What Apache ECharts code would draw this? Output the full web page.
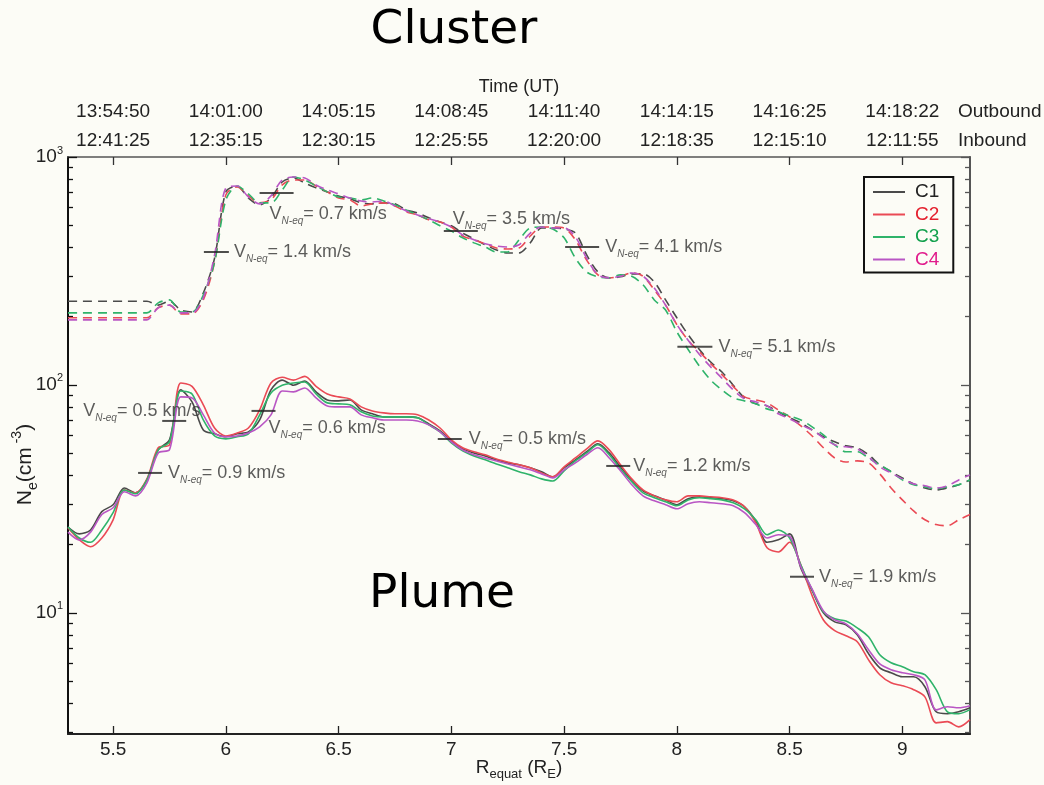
<!DOCTYPE html>
<html>
<head>
<meta charset="utf-8">
<title>Cluster plume</title>
<script src="https://cdn.jsdelivr.net/npm/echarts@6/dist/echarts.min.js"></script>
<style>
    html, body { margin: 0; padding: 0; background: #fcfcf6; }
    #chart { width: 1044px; height: 785px; }
</style>
</head>
<body>
<div id="chart"></div>
<script>
// R_equat grid (R_E), shared by all curves
const rGrid = [
    5.30, 5.35, 5.40, 5.45,
    5.50, 5.55, 5.60, 5.65, 5.70, 5.75, 5.80, 5.85, 5.90, 5.95,
    6.00, 6.05, 6.10, 6.15, 6.20, 6.25, 6.30, 6.35, 6.40, 6.45,
    6.50, 6.55, 6.60, 6.65, 6.70, 6.75, 6.80, 6.85, 6.90, 6.95,
    7.00, 7.05, 7.10, 7.15, 7.20, 7.25, 7.30, 7.35, 7.40, 7.45,
    7.50, 7.55, 7.60, 7.65, 7.70, 7.75, 7.80, 7.85, 7.90, 7.95,
    8.00, 8.05, 8.10, 8.15, 8.20, 8.25, 8.30, 8.35, 8.40, 8.45,
    8.50, 8.55, 8.60, 8.65, 8.70, 8.75, 8.80, 8.85, 8.90, 8.95,
    9.00, 9.05, 9.10, 9.15, 9.20, 9.25, 9.30
];

// Ne (cm^-3), dashed curves (upper, "Cluster")
const clusterC1 = [
    233, 233, 233, 233,
    233, 233, 233, 233, 224, 233, 213, 209, 253, 360,
    703, 746, 661, 617, 661, 777, 809, 769, 732, 703,
    675, 655, 629, 623, 629, 623, 586, 568, 541, 519,
    499, 464, 437, 412, 391, 379, 379, 420, 488, 488,
    483, 464, 372, 313, 295, 298, 307, 307, 283, 236,
    197, 166, 143, 126, 114, 99.7, 87.7, 82.6, 80.9, 76.2,
    71.7, 68.1, 63.4, 59.2, 56.3, 54.1, 53.0, 49.4, 44.6, 41.6,
    39.1, 36.8, 35.3, 34.6, 35.3, 36.5, 38.3
];
const clusterC2 = [
    197, 197, 197, 197,
    197, 197, 197, 197, 218, 224, 205, 205, 236, 346,
    682, 739, 675, 629, 648, 754, 793, 793, 746, 703,
    661, 648, 610, 623, 629, 610, 574, 557, 530, 519,
    493, 450, 433, 416, 399, 395, 399, 450, 493, 493,
    488, 433, 353, 304, 295, 300, 310, 300, 261, 224,
    184, 157, 140, 124, 111, 98.6, 88.6, 85.9, 83.4, 77.7,
    72.4, 66.1, 59.7, 53.0, 47.8, 45.9, 46.4, 45.5, 40.7, 35.3,
    31.3, 28.0, 25.6, 24.4, 24.1, 25.6, 27.0
];
const clusterC3 = [
    207, 207, 207, 207,
    207, 207, 207, 207, 229, 236, 209, 209, 248, 346,
    648, 746, 689, 629, 629, 717, 817, 793, 746, 703,
    668, 661, 648, 661, 641, 617, 586, 557, 530, 499,
    473, 442, 420, 403, 383, 383, 433, 488, 493, 483,
    442, 360, 313, 298, 295, 304, 300, 275, 236, 213,
    171, 143, 121, 105, 95.1, 87.7, 85.1, 82.6, 78.5, 76.2,
    73.1, 70.2, 65.4, 60.4, 54.6, 50.9, 50.9, 47.8, 44.6, 41.6,
    38.3, 36.5, 35.7, 35.0, 35.7, 36.5, 38.3
];
const clusterC4 = [
    193, 193, 193, 193,
    193, 193, 193, 193, 218, 224, 207, 207, 241, 372,
    732, 746, 668, 623, 675, 793, 817, 809, 754, 717,
    689, 661, 641, 635, 641, 610, 580, 557, 536, 519,
    493, 455, 433, 416, 407, 403, 412, 464, 493, 488,
    488, 446, 360, 304, 295, 300, 310, 300, 266, 224,
    184, 157, 136, 120, 107, 95.1, 86.8, 84.3, 80.9, 74.7,
    71.0, 66.8, 63.4, 58.6, 54.6, 53.5, 52.4, 48.3, 43.7, 41.1,
    38.7, 36.8, 36.1, 35.3, 36.1, 38.3, 40.3
];

// Ne (cm^-3), solid curves (lower, "Plume")
const plumeC1 = [
    23.8, 22.2, 23.1, 27.8,
    29.8, 35.3, 33.6, 38.3, 51.9, 57.4, 95.1, 84.3, 63.4, 61.0,
    59.2, 61.0, 62.2, 70.2, 95.1, 105, 99.7, 104, 93.2, 85.9,
    85.1, 85.9, 77.7, 74.7, 72.4, 72.4, 72.4, 71.7, 67.5, 62.8,
    56.8, 52.4, 50.3, 48.8, 46.9, 45.5, 44.6, 43.3, 41.6, 39.5,
    43.3, 46.9, 50.9, 55.2, 50.3, 43.7, 38.3, 34.3, 32.6, 31.3,
    29.8, 31.7, 32.3, 32.0, 31.7, 31.0, 29.2, 25.3, 20.4, 20.9,
    22.2, 15.7, 12.5, 10.0, 9.13, 8.86, 8.01, 6.62, 5.74, 5.46,
    5.24, 5.24, 4.74, 3.68, 3.61, 3.68, 3.83
];
const plumeC2 = [
    23.6, 20.9, 19.5, 21.3,
    25.6, 34.6, 33.6, 38.7, 53.0, 54.6, 102, 98.6, 81.8, 64.7,
    59.7, 61.5, 64.7, 77.7, 102, 108, 105, 109, 98.6, 91.3,
    88.6, 86.8, 80.1, 76.9, 75.4, 74.7, 74.7, 73.9, 70.2, 64.7,
    57.4, 53.0, 50.9, 49.4, 47.3, 45.9, 44.6, 43.3, 41.1, 39.5,
    43.7, 47.8, 52.4, 56.8, 51.9, 44.6, 38.7, 34.6, 32.6, 31.3,
    30.7, 32.6, 32.6, 32.3, 32.0, 31.3, 29.2, 24.8, 19.3, 18.5,
    20.4, 16.2, 11.9, 9.3, 8.35, 7.93, 7.47, 6.22, 5.35, 4.93,
    4.79, 4.60, 4.28, 3.29, 3.33, 3.16, 3.40
];
const plumeC3 = [
    23.8, 21.3, 20.4, 23.1,
    27.5, 34.6, 33.3, 38.3, 51.9, 56.3, 94.1, 91.3, 70.2, 59.7,
    58.0, 59.2, 61.0, 73.9, 92.2, 99.7, 102, 103, 91.3, 83.4,
    82.6, 81.8, 76.2, 73.1, 72.4, 72.4, 72.4, 71.7, 66.8, 62.2,
    55.7, 51.4, 48.8, 46.9, 45.0, 43.3, 41.6, 40.3, 38.7, 37.9,
    42.0, 46.4, 50.3, 54.6, 49.4, 42.8, 37.6, 33.6, 32.0, 30.7,
    29.5, 31.3, 32.0, 31.7, 31.3, 30.4, 28.6, 25.6, 22.0, 23.1,
    21.3, 16.2, 12.6, 10.1, 9.41, 9.2, 8.59, 7.85, 6.55, 6.04,
    5.80, 5.52, 5.35, 4.60, 3.68, 3.61, 3.76
];
const plumeC4 = [
    22.6, 20.9, 22.6, 27.0,
    28.9, 34.0, 32.6, 37.2, 50.3, 52.0, 88.6, 87.7, 73.9, 61.5,
    59.2, 59.7, 61.5, 65.4, 73.9, 94.1, 93.2, 97.0, 87.7, 80.9,
    80.1, 80.1, 73.9, 71.7, 70.2, 70.2, 70.2, 69.5, 66.8, 62.2,
    56.3, 51.9, 49.4, 47.8, 46.4, 45.0, 43.7, 42.4, 40.7, 39.1,
    42.4, 45.5, 49.4, 53.0, 47.8, 42.0, 36.5, 32.6, 31.0, 29.8,
    28.6, 30.1, 30.7, 30.4, 30.1, 29.5, 27.5, 24.4, 21.3, 22.0,
    21.7, 15.9, 12.7, 10.2, 9.31, 8.95, 8.09, 6.89, 5.97, 5.63,
    5.46, 5.35, 5.08, 3.75, 3.87, 3.83, 3.91
];

// V_N-eq markers
const annoR = [6.225, 5.958, 7.042, 7.58, 8.08, 5.771, 5.664, 6.167, 6.993, 7.74, 8.555];
const annoN = [695, 383, 473, 403, 147, 69.5, 41.1, 76.9, 57.9, 44.1, 14.4];
const annoSpeed = ['0.7', '1.4', '3.5', '4.1', '5.1', '0.5', '0.9', '0.6', '0.5', '1.2', '1.9'];

// axes
const xTicks = [5.5, 6, 6.5, 7, 7.5, 8, 8.5, 9];
const outboundTimes = ['13:54:50', '14:01:00', '14:05:15', '14:08:45', '14:11:40', '14:14:15', '14:16:25', '14:18:22'];
const inboundTimes = ['12:41:25', '12:35:15', '12:30:15', '12:25:55', '12:20:00', '12:18:35', '12:15:10', '12:11:55'];
const yMajor = [10, 100, 1000];
const yMinor = [3, 4, 5, 6, 7, 8, 9, 20, 30, 40, 50, 60, 70, 80, 90, 200, 300, 400, 500, 600, 700, 800, 900];
const names = ['C1', 'C2', 'C3', 'C4'];

// styles (not data)
const lineColors = ['#4a4a4a', '#ea4a55', '#2fb36a', '#b956c4'];
const textColors = ['#222222', '#e4202e', '#11a04c', '#e01c8c'];
const markWidth = [34, 25, 34, 34, 35, 24, 24, 24, 24, 24, 24];
const labelShift = [[-29, 21], [0, 0], [-30, -12], [1, 0], [1, 0], [-108, -10], [1, 0], [-12, 17], [2, 0], [-2, 0], [0, 0]];

const FONT = '"Liberation Sans", Arial, sans-serif';
const yMin = 2.94, yMax = 1000;
const xMin = 5.3, xMax = 9.3;

let chartDom = document.getElementById('chart');
let myChart = echarts.init(chartDom);

function curve(name, values, color, dashed) {
    return {
        name: name,
        type: 'line',
        data: rGrid.map((r, i) => [r, values[i]]),
        showSymbol: false,
        symbol: 'none',
        smooth: 0.3,
        itemStyle: {color: color},
        lineStyle: {color: color, width: 1.6, type: dashed ? [9, 6] : 'solid'},
        emphasis: {disabled: true},
        z: 2
    };
}

function logAxis(position, ticks, len, lineShow, lineColor) {
    return {
        type: 'log',
        logBase: 10,
        min: yMin,
        max: yMax,
        position: position,
        axisLine: {show: lineShow, lineStyle: {color: lineColor, width: 2}},
        axisTick: {show: true, inside: true, length: len, customValues: ticks, lineStyle: {color: lineColor, width: 1.3}},
        axisLabel: {show: false},
        splitLine: {show: false}
    };
}

const plumeData = [plumeC1, plumeC2, plumeC3, plumeC4];
const clusterData = [clusterC1, clusterC2, clusterC3, clusterC4];

let series = [];
names.forEach((n, i) => series.push(curve(n, plumeData[i], lineColors[i], false)));
names.forEach((n, i) => series.push(curve(n, clusterData[i], lineColors[i], true)));
series.push({
    name: 'marks',
    type: 'scatter',
    symbol: 'rect',
    z: 5,
    itemStyle: {color: '#222'},
    emphasis: {disabled: true},
    data: annoR.map((r, i) => ({
        value: [r, annoN[i]],
        symbolSize: [markWidth[i], 2],
        label: {offset: labelShift[i]}
    })),
    label: {
        show: true,
        position: 'right',
        distance: 5,
        formatter: p => '{v|V}{sub|N-eq}{v|= ' + annoSpeed[p.dataIndex] + ' km/s}',
        rich: {
            v: {fontSize: 18, fontFamily: FONT, color: '#333', lineHeight: 24},
            sub: {fontSize: 10, fontFamily: FONT, fontStyle: 'italic', color: '#333', lineHeight: 10, verticalAlign: 'bottom'}
        }
    }
});

let option = {
    backgroundColor: '#fcfcf6',
    animation: false,
    grid: {left: 68, right: 74, top: 157, bottom: 51, containLabel: false, outerBoundsMode: 'none'},
    legend: {
        orient: 'vertical',
        left: 864,
        top: 177,
        padding: [5, 14, 3, 9],
        borderColor: '#111',
        borderWidth: 2,
        itemWidth: 32,
        itemHeight: 2,
        itemGap: 2.5,
        icon: 'rect',
        selectedMode: false,
        textStyle: {fontSize: 19, fontFamily: FONT, lineHeight: 20, padding: [0, 0, 0, 5]},
        data: names.map((n, i) => ({name: n, textStyle: {color: textColors[i]}}))
    },
    xAxis: [
        {
            type: 'value',
            min: xMin,
            max: xMax,
            position: 'bottom',
            axisLine: {onZero: false, lineStyle: {color: '#222', width: 2}},
            axisTick: {inside: true, length: 8, customValues: xTicks, lineStyle: {color: '#222', width: 1.3}},
            axisLabel: {customValues: xTicks, formatter: v => String(v), margin: 6, fontSize: 19, fontFamily: FONT, color: '#222'},
            splitLine: {show: false},
            name: '{b|R}{sub|equat}{b| (R}{sub|E}{b|)}',
            nameLocation: 'middle',
            nameGap: 21,
            nameMoveOverlap: false,
            nameTextStyle: {
                rich: {
                    b: {fontSize: 19, fontFamily: FONT, color: '#222', lineHeight: 26},
                    sub: {fontSize: 13, fontFamily: FONT, color: '#222', lineHeight: 13, verticalAlign: 'bottom'}
                }
            }
        },
        {
            type: 'value',
            min: xMin,
            max: xMax,
            position: 'top',
            axisLine: {onZero: false, lineStyle: {color: '#555', width: 1.5}},
            axisTick: {inside: true, length: 8, customValues: xTicks, lineStyle: {color: '#333', width: 1.3}},
            axisLabel: {
                customValues: xTicks,
                formatter: v => {
                    let i = xTicks.findIndex(t => Math.abs(t - v) < 1e-6);
                    return i < 0 ? '' : outboundTimes[i] + '\n' + inboundTimes[i];
                },
                margin: 2,
                lineHeight: 29,
                fontSize: 19,
                fontFamily: FONT,
                color: '#222'
            },
            splitLine: {show: false},
            name: 'Time (UT)',
            nameLocation: 'middle',
            nameGap: 61,
            nameMoveOverlap: false,
            nameTextStyle: {fontSize: 18, fontFamily: FONT, color: '#222'}
        }
    ],
    yAxis: [
        Object.assign(logAxis('left', yMajor, 9, true, '#111'), {
            axisLabel: {
                show: true,
                customValues: yMajor,
                margin: 5,
                formatter: v => '{b|10}{s|' + Math.round(Math.log10(v)) + '}',
                rich: {
                    b: {fontSize: 19, fontFamily: FONT, color: '#222', lineHeight: 24},
                    s: {fontSize: 11, fontFamily: FONT, color: '#222', lineHeight: 11, verticalAlign: 'top'}
                }
            },
            name: '{b|N}{sub|e}{b|(cm}{sup| -3}{b|)}',
            nameLocation: 'middle',
            nameGap: 28,
            nameMoveOverlap: false,
            nameTextStyle: {
                padding: [0, 38, 0, 0],
                rich: {
                    b: {fontSize: 21, fontFamily: FONT, color: '#222', lineHeight: 30},
                    sub: {fontSize: 14, fontFamily: FONT, color: '#222', lineHeight: 14, verticalAlign: 'bottom'},
                    sup: {fontSize: 14, fontFamily: FONT, color: '#222', lineHeight: 14, verticalAlign: 'top'}
                }
            }
        }),
        logAxis('left', yMinor, 5, false, '#111'),
        logAxis('right', yMajor, 9, true, '#555'),
        logAxis('right', yMinor, 5, false, '#555')
    ],
    graphic: [
        {type: 'text', x: 454, y: 31, style: {text: 'Cluster', fontSize: 47, fontFamily: '"DejaVu Sans"', fill: '#000', align: 'center', verticalAlign: 'middle'}},
        {type: 'text', x: 442, y: 595, z: 10, style: {text: 'Plume', fontSize: 47, fontFamily: '"DejaVu Sans"', fill: '#000', align: 'center', verticalAlign: 'middle'}},
        {type: 'text', x: 958, y: 112, style: {text: 'Outbound', fontSize: 19, fontFamily: FONT, fill: '#222', align: 'left', verticalAlign: 'middle'}},
        {type: 'text', x: 958, y: 141, style: {text: 'Inbound', fontSize: 19, fontFamily: FONT, fill: '#222', align: 'left', verticalAlign: 'middle'}}
    ],
    series: series
};
option && myChart.setOption(option);
</script>
</body>
</html>
